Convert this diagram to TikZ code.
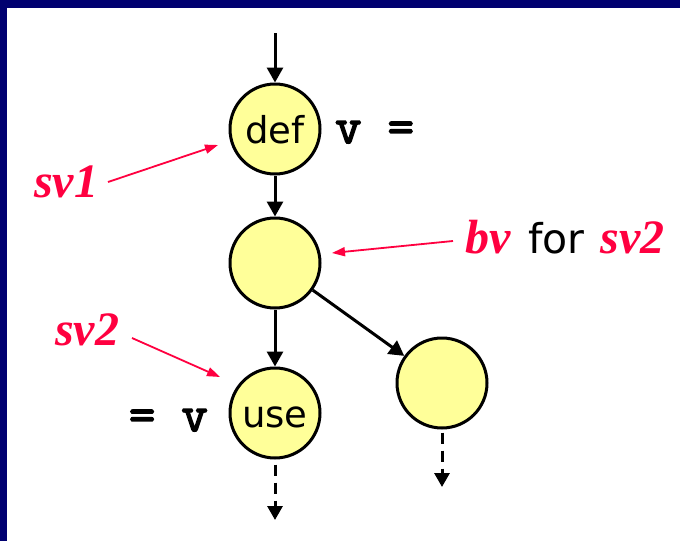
\documentclass[tikz,border=0pt]{standalone}
\usepackage{fontspec}
\usetikzlibrary{arrows.meta}
\newfontfamily\sansfnt{DejaVu Sans}
\newfontfamily\seriffnt{Liberation Serif}
\newfontfamily\monofnt{Latin Modern Mono}[FakeBold=3]
\definecolor{navy}{HTML}{000070}
\definecolor{hot}{HTML}{FF0040}
\definecolor{yel}{HTML}{FFFF99}
\newcommand{\redlab}[1]{{\seriffnt\bfseries\itshape\color{hot}#1}}
\begin{document}
\begin{tikzpicture}[x=1pt,y=-1pt,
  blk/.style={line width=3pt,-{Triangle[width=16pt,length=15pt]}},
  dsh/.style={line width=3pt,dash pattern=on 11pt off 7pt,-{Triangle[width=15pt,length=14pt]}},
  redarr/.style={line width=1.8pt,draw=hot,-{Triangle[width=9pt,length=13pt]}},
  vnode/.style={circle,draw,line width=3pt,fill=yel,minimum size=90pt,inner sep=0pt,
    font=\sansfnt\fontsize{37}{40}\selectfont,text height=28pt,text depth=0pt},
  monolab/.style={font=\monofnt\fontsize{51}{55}\selectfont,inner sep=0pt},
  redtext/.style={font=\fontsize{48}{50}\selectfont,inner sep=0pt}]
\fill[white] (0,0) rectangle (680,541);
\fill[navy] (0,0) rectangle (680,8);
\fill[navy] (0,0) rectangle (7,541);
\useasboundingbox (0,0) rectangle (680,541);
% nodes
\node[vnode] (def) at (275,129) {def};
\node[vnode] (bv) at (275,263) {};
\node[vnode] (use) at (275,413) {use};
\node[vnode] (rt) at (442,383) {};
\coordinate (top) at (275,33);
\coordinate (ue) at (275,520);
\coordinate (re) at (442,487);
% black connectors
\draw[blk] (top) -- (def);
\draw[blk] (def) -- (bv);
\draw[blk] (bv) -- (use);
\draw[blk] (bv) -- (rt);
\draw[dsh,shorten <=5pt] (use) -- (ue);
\draw[dsh,shorten <=3pt] (rt) -- (re);
% code labels
\node[monolab,anchor=base west] (vdef) at (335,143) {v =};
\node[monolab,anchor=base east] (vuse) at (208,431) {= v};
% red labels
\node[redtext,anchor=base west] (sv1) at (34,197) {\redlab{sv1}};
\node[redtext,anchor=base west] (sv2) at (55,345) {\redlab{sv2}};
\node[redtext,anchor=base west] (bvlab) at (465,253) {\redlab{bv}\hspace{3pt} {\sansfnt\fontsize{41}{42}\selectfont for}\hspace{2pt} \redlab{sv2}};
\coordinate (a1s) at (108,182);
\coordinate (a1e) at (218,145);
\coordinate (a2s) at (453,241);
\coordinate (a2e) at (332,253);
\coordinate (a3s) at (132,338);
\coordinate (a3e) at (220,377);
\draw[redarr] (a1s) -- (a1e);
\draw[redarr] (a2s) -- (a2e);
\draw[redarr] (a3s) -- (a3e);
\end{tikzpicture}
\end{document}
